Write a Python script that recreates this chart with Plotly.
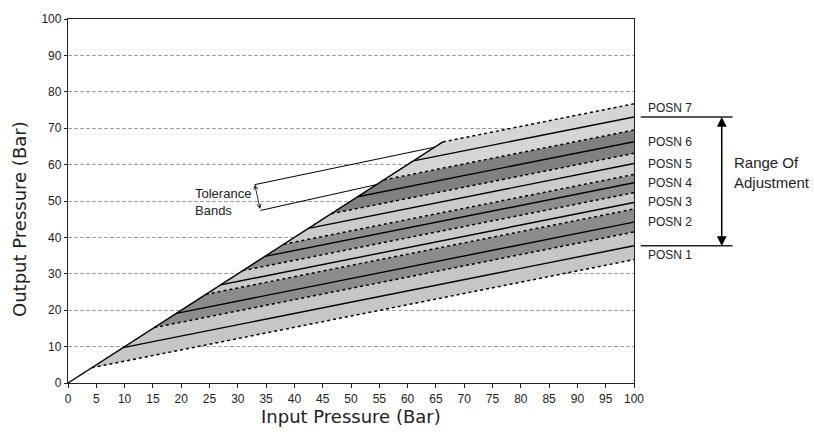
import plotly.graph_objects as go

# --- data --------------------------------------------------------------------
input_ticks = list(range(0, 101, 5))
output_ticks = list(range(0, 101, 10))

posn_labels = ['POSN 1', 'POSN 2', 'POSN 3', 'POSN 4', 'POSN 5', 'POSN 6', 'POSN 7']
# output pressure at 100 bar input for each position (centre line)
posn_setting = [37.7, 44.2, 49.6, 55.0, 60.3, 66.3, 73.1]
# tolerance band edges at 100 bar input (bottom of POSN 1 ... top of POSN 7)
band_edges = [33.9, 41.5, 47.8, 52.3, 57.3, 63.1, 69.5, 76.7]
gain = 0.31          # slope of output vs input once regulating
max_input = 100

# tolerance-band callout: arrow ends and the points the leaders run to
tol_arrow_x = [33.0, 34.0]
tol_arrow_y = [54.5, 47.4]
tol_leader_end = [64.8, 54.5]

band_colors = ['#c6c6c6', '#8c8c8c', '#c9c9c9', '#8e8e8e', '#cbcbcb', '#808080', '#d5d5d5']


def start_x(v_at_max):
    # where a regulated line meets the unregulated y = x line
    return (v_at_max - gain * max_input) / (1 - gain)


fig = go.Figure()

# filled tolerance bands
for i in range(len(posn_setting)):
    lo, hi = band_edges[i], band_edges[i + 1]
    x_lo, x_hi = start_x(lo), start_x(hi)
    fig.add_trace(go.Scatter(
        x=[x_lo, max_input, max_input, x_hi, x_lo],
        y=[x_lo, lo, hi, x_hi, x_lo],
        mode='lines', fill='toself', fillcolor=band_colors[i],
        line=dict(width=0), hoverinfo='skip'))

# dotted tolerance limits
for v in band_edges:
    x0 = start_x(v)
    fig.add_trace(go.Scatter(x=[x0, max_input], y=[x0, v], mode='lines',
                             line=dict(color='black', width=1.5, dash='3px,3px'),
                             hoverinfo='skip'))

# solid set-point lines
for v in posn_setting:
    x0 = start_x(v)
    fig.add_trace(go.Scatter(x=[x0, max_input], y=[x0, v], mode='lines',
                             line=dict(color='black', width=1.4), hoverinfo='skip'))

# unregulated line y = x
top = start_x(band_edges[-1])
fig.add_trace(go.Scatter(x=[0, top], y=[0, top], mode='lines',
                         line=dict(color='black', width=1.4), hoverinfo='skip'))

# leader lines from tolerance arrow
for j in range(2):
    fig.add_trace(go.Scatter(x=[tol_arrow_x[j], tol_leader_end[j]],
                             y=[tol_arrow_y[j], tol_leader_end[j]], mode='lines',
                             line=dict(color='black', width=1), hoverinfo='skip'))

annotations = []
annotations.append(dict(x=tol_arrow_x[0], y=tol_arrow_y[0], ax=tol_arrow_x[1], ay=tol_arrow_y[1],
                        xref='x', yref='y', axref='x', ayref='y', text='', showarrow=True,
                        arrowhead=5, arrowside='end+start', arrowsize=1, arrowwidth=0.8,
                        arrowcolor='black', standoff=0, startstandoff=0))
annotations.append(dict(x=22.0, y=49.7, xref='x', yref='y', xanchor='left', yanchor='middle',
                        align='left', text='Tolerance<br>Bands', showarrow=False,
                        font=dict(family='Liberation Sans, Arial', size=13, color='#222')))

# position labels on the right
for i, lab in enumerate(posn_labels):
    if i == len(posn_labels) - 1:
        ya = 'bottom'
    elif i == 0:
        ya = 'top'
    else:
        ya = 'middle'
    annotations.append(dict(x=1.021, y=posn_setting[i] / 100, xref='paper', yref='paper',
                            xanchor='left', yanchor=ya, text=lab, showarrow=False,
                            font=dict(family='Liberation Sans, Arial', size=12, color='#222')))

plot_h = 436 - 14 - 53
span_px = (posn_setting[-1] - posn_setting[0]) / 100 * plot_h
annotations.append(dict(x=1.155, y=posn_setting[-1] / 100, xref='paper', yref='paper',
                        ax=0, ay=span_px, axref='pixel', ayref='pixel', text='', showarrow=True,
                        arrowhead=2, arrowside='end+start', arrowsize=1.3, arrowwidth=1.5,
                        arrowcolor='black', standoff=0, startstandoff=0))
annotations.append(dict(x=1.173, y=0.577, xref='paper', yref='paper', xanchor='left',
                        yanchor='middle', align='left', text='Range Of<br>Adjustment',
                        showarrow=False,
                        font=dict(family='Liberation Sans, Arial', size=15, color='#222')))

# axis titles
annotations.append(dict(x=0.5, y=-0.092, xref='paper', yref='paper', text='Input Pressure (Bar)',
                        showarrow=False, xanchor='center', yanchor='middle',
                        font=dict(family='DejaVu Sans', size=18, color='#222')))
annotations.append(dict(x=-0.087, y=0.45, xref='paper', yref='paper', text='Output Pressure (Bar)',
                        showarrow=False, textangle=-90, xanchor='center', yanchor='middle',
                        font=dict(family='DejaVu Sans', size=18, color='#222')))

shapes = []
for v in [posn_setting[-1], posn_setting[0]]:
    shapes.append(dict(type='line', xref='paper', yref='paper', x0=1.012, x1=1.174,
                       y0=v / 100, y1=v / 100, line=dict(color='#222', width=1.5)))

fig.update_layout(
    width=814, height=436,
    margin=dict(l=68, r=180, t=14, b=53),
    plot_bgcolor='white', paper_bgcolor='white',
    showlegend=False,
    hovermode=False,
    annotations=annotations,
    shapes=shapes,
    font=dict(family='Liberation Sans, Arial', size=12, color='#222'),
    xaxis=dict(range=[0, 100], tickvals=input_ticks, showgrid=False, zeroline=False,
               showline=True, mirror=True, linecolor='#222', linewidth=1.3,
               ticks='outside', ticklen=4, tickcolor='#222',
               tickfont=dict(family='Liberation Sans, Arial', size=12, color='#222')),
    yaxis=dict(range=[0, 100], tickvals=output_ticks, showgrid=True, gridcolor='#a0a0a0',
               griddash='4px,2px', gridwidth=1, zeroline=False,
               showline=True, mirror=True, linecolor='#222', linewidth=1.3,
               ticks='outside', ticklen=3, tickcolor='#222',
               tickfont=dict(family='Liberation Sans, Arial', size=12, color='#222')),
)

fig.write_html("out.html", config={'displayModeBar': False},
               post_script="document.body.style.margin='0';document.body.style.overflow='hidden';")
